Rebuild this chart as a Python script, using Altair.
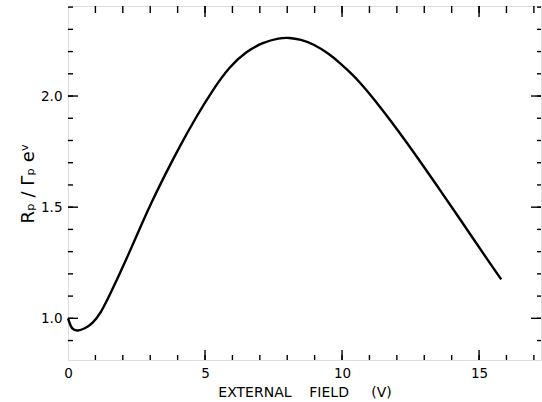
import altair as alt
import pandas as pd

# Curve
field = [0.0, 0.1, 0.2, 0.35, 0.6, 0.9, 1.2, 1.5, 2.1, 2.7, 3.09, 3.6, 4.07, 4.68,
         5.28, 5.89, 6.5, 7.11, 7.72, 8.05, 8.5, 8.95, 9.5, 9.91, 10.27, 10.64,
         11.2, 11.8, 12.4, 12.9, 13.56, 14.2, 14.8, 15.3, 15.81]
ratio = [1.0, 0.962, 0.948, 0.943, 0.953, 0.977, 1.025, 1.098, 1.257, 1.427, 1.533,
         1.660, 1.772, 1.907, 2.027, 2.132, 2.200, 2.241, 2.261, 2.263, 2.255, 2.234,
         2.192, 2.150, 2.109, 2.064, 1.981, 1.885, 1.784, 1.697, 1.58, 1.465,
         1.356, 1.265, 1.175]

# Tick positions
x_minor = list(range(1, 18))
x_major = [5, 10, 15]
x_labels = [0, 5, 10, 15]
y_minor = [0.9, 1.0, 1.1, 1.2, 1.3, 1.4, 1.5, 1.6, 1.7, 1.8, 1.9, 2.0, 2.1, 2.2, 2.3, 2.4]
y_major = [1.0, 1.5, 2.0]
y_labels = [1.0, 1.5, 2.0]

W, H = 473, 354
FONT = "DejaVu Sans"
SP = "\u00a0"

xs = alt.Scale(domain=[0, 17.26], nice=False, zero=False)
ys = alt.Scale(domain=[0.8125, 2.405], nice=False, zero=False)

X_AXIS = alt.Axis(values=x_labels, ticks=False, grid=False, domain=False,
                  labelFont=FONT, labelFontSize=13.5, labelColor="black",
                  labelPadding=6, labelFlush=False,
                  title="EXTERNAL" + SP * 4 + "FIELD" + SP * 5 + "(V)",
                  titleFont=FONT, titleFontSize=14, titleFontWeight="normal",
                  titleColor="black", titlePadding=6)
Y_AXIS = alt.Axis(values=y_labels, format=".1f", ticks=False, grid=False, domain=False,
                  labelFont=FONT, labelFontSize=13.5, labelColor="black",
                  labelPadding=6, labelFlush=False,
                  title="R\u209a / \u0393\u209a e\u1d5b",
                  titleFont=FONT, titleFontSize=18, titleFontWeight="normal",
                  titleColor="black", titlePadding=3)

df = pd.DataFrame({"field": field, "ratio": ratio})

line = alt.Chart(df).mark_line(color="black", strokeWidth=2.4, interpolate="basis").encode(
    x=alt.X("field:Q", scale=xs, axis=X_AXIS),
    y=alt.Y("ratio:Q", scale=ys, axis=Y_AXIS),
)

def xticks(vals, y0, y1):
    return alt.Chart(pd.DataFrame({"field": vals})).mark_rule(color="black", strokeWidth=1.4).encode(
        x=alt.X("field:Q", scale=xs, axis=X_AXIS), y=alt.value(y0), y2=alt.value(y1))

def yticks(vals, x0, x1):
    return alt.Chart(pd.DataFrame({"ratio": vals})).mark_rule(color="black", strokeWidth=1.4).encode(
        y=alt.Y("ratio:Q", scale=ys, axis=Y_AXIS), x=alt.value(x0), x2=alt.value(x1))

layers = [
    line,
    xticks(x_minor, H, H - 5), xticks(x_major, H, H - 10),
    xticks(x_minor, 0, 7), xticks(x_major, 0, 11),
    yticks(y_minor, 0, 5), yticks(y_major, 0, 10),
    yticks(y_minor, W, W - 4), yticks(y_major, W, W - 10),
]

chart = alt.layer(*layers).properties(
    width=W, height=H,
    autosize="none",
    padding={"left": 68, "top": 6, "right": 1, "bottom": 42},
).configure_view(stroke="black", strokeWidth=1.6).configure(background="white")

chart.save("out.html", embed_options={"renderer": "svg", "actions": False})
